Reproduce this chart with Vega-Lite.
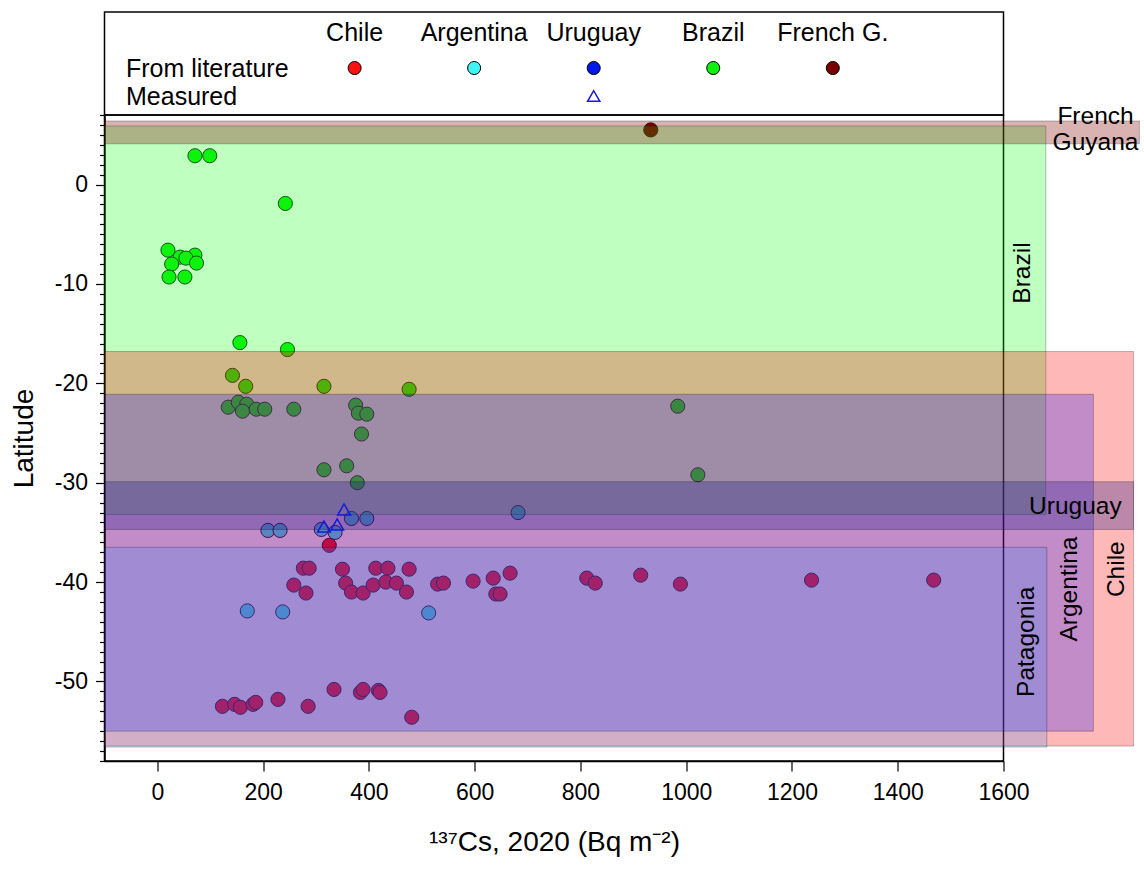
{
  "$schema": "https://vega.github.io/schema/vega-lite/v6.json",
  "background": "white",
  "padding": {"left": 9.5, "top": 11, "right": 0, "bottom": 0},
  "autosize": {"type": "pad"},
  "spacing": 0,
  "bounds": "flush",
  "config": {
    "font": "Liberation Sans",
    "view": {"stroke": "black", "strokeWidth": 1.5},
    "axis": {"domainColor": "black", "tickColor": "black", "labelColor": "black", "titleColor": "black", "grid": false, "titleFontWeight": "normal", "labelFont": "Liberation Sans", "titleFont": "Liberation Sans", "domainWidth": 1.5, "tickWidth": 1.2},
    "text": {"font": "Liberation Sans"}
  },
  "datasets": {
    "legend": [
      {"country": "Chile", "row": "header"},
      {"country": "Argentina", "row": "header"},
      {"country": "Uruguay", "row": "header"},
      {"country": "Brazil", "row": "header"},
      {"country": "French G.", "row": "header"},
      {"country": "Chile", "row": "From literature"},
      {"country": "Argentina", "row": "From literature"},
      {"country": "Uruguay", "row": "From literature"},
      {"country": "Brazil", "row": "From literature"},
      {"country": "French G.", "row": "From literature"},
      {"country": "Uruguay", "row": "Measured"}
    ],
    "pts": [
      {"country": "Brazil", "cs": 71, "lat": 2.9},
      {"country": "Brazil", "cs": 99, "lat": 2.9},
      {"country": "Brazil", "cs": 242, "lat": -1.9},
      {"country": "Brazil", "cs": 20, "lat": -6.6},
      {"country": "Brazil", "cs": 71, "lat": -7.1},
      {"country": "Brazil", "cs": 43, "lat": -7.3},
      {"country": "Brazil", "cs": 54, "lat": -7.4},
      {"country": "Brazil", "cs": 27, "lat": -8.0},
      {"country": "Brazil", "cs": 74, "lat": -7.9},
      {"country": "Brazil", "cs": 22, "lat": -9.3},
      {"country": "Brazil", "cs": 52, "lat": -9.3},
      {"country": "Brazil", "cs": 156, "lat": -15.9},
      {"country": "Brazil", "cs": 246, "lat": -16.6},
      {"country": "Brazil", "cs": 142, "lat": -19.2},
      {"country": "Brazil", "cs": 167, "lat": -20.3},
      {"country": "Brazil", "cs": 315, "lat": -20.3},
      {"country": "Brazil", "cs": 476, "lat": -20.6},
      {"country": "Brazil", "cs": 134, "lat": -22.4},
      {"country": "Brazil", "cs": 153, "lat": -21.9},
      {"country": "Brazil", "cs": 169, "lat": -22.1},
      {"country": "Brazil", "cs": 161, "lat": -22.8},
      {"country": "Brazil", "cs": 187, "lat": -22.6},
      {"country": "Brazil", "cs": 203, "lat": -22.6},
      {"country": "Brazil", "cs": 258, "lat": -22.6},
      {"country": "Brazil", "cs": 375, "lat": -22.2},
      {"country": "Brazil", "cs": 380, "lat": -23.0},
      {"country": "Brazil", "cs": 396, "lat": -23.1},
      {"country": "Brazil", "cs": 386, "lat": -25.1},
      {"country": "Brazil", "cs": 315, "lat": -28.7},
      {"country": "Brazil", "cs": 358, "lat": -28.3},
      {"country": "Brazil", "cs": 378, "lat": -30.0},
      {"country": "Brazil", "cs": 984, "lat": -22.3},
      {"country": "Brazil", "cs": 1022, "lat": -29.2},
      {"country": "Argentina", "cs": 209, "lat": -34.8},
      {"country": "Argentina", "cs": 232, "lat": -34.8},
      {"country": "Argentina", "cs": 310, "lat": -34.7},
      {"country": "Argentina", "cs": 336, "lat": -35.0},
      {"country": "Argentina", "cs": 367, "lat": -33.6},
      {"country": "Argentina", "cs": 396, "lat": -33.6},
      {"country": "Argentina", "cs": 682, "lat": -33.0},
      {"country": "Argentina", "cs": 170, "lat": -42.9},
      {"country": "Argentina", "cs": 237, "lat": -43.0},
      {"country": "Argentina", "cs": 513, "lat": -43.1},
      {"country": "Chile", "cs": 325, "lat": -36.3},
      {"country": "Chile", "cs": 276, "lat": -38.6},
      {"country": "Chile", "cs": 287, "lat": -38.6},
      {"country": "Chile", "cs": 258, "lat": -40.3},
      {"country": "Chile", "cs": 281, "lat": -41.1},
      {"country": "Chile", "cs": 350, "lat": -38.7},
      {"country": "Chile", "cs": 356, "lat": -40.1},
      {"country": "Chile", "cs": 367, "lat": -41.0},
      {"country": "Chile", "cs": 389, "lat": -41.1},
      {"country": "Chile", "cs": 413, "lat": -38.6},
      {"country": "Chile", "cs": 436, "lat": -38.6},
      {"country": "Chile", "cs": 408, "lat": -40.3},
      {"country": "Chile", "cs": 432, "lat": -40.0},
      {"country": "Chile", "cs": 452, "lat": -40.1},
      {"country": "Chile", "cs": 471, "lat": -41.0},
      {"country": "Chile", "cs": 476, "lat": -38.7},
      {"country": "Chile", "cs": 530, "lat": -40.2},
      {"country": "Chile", "cs": 541, "lat": -40.1},
      {"country": "Chile", "cs": 597, "lat": -39.9},
      {"country": "Chile", "cs": 635, "lat": -39.6},
      {"country": "Chile", "cs": 640, "lat": -41.2},
      {"country": "Chile", "cs": 648, "lat": -41.2},
      {"country": "Chile", "cs": 667, "lat": -39.1},
      {"country": "Chile", "cs": 812, "lat": -39.6},
      {"country": "Chile", "cs": 828, "lat": -40.1},
      {"country": "Chile", "cs": 914, "lat": -39.3},
      {"country": "Chile", "cs": 989, "lat": -40.2},
      {"country": "Chile", "cs": 1237, "lat": -39.8},
      {"country": "Chile", "cs": 1468, "lat": -39.8},
      {"country": "Chile", "cs": 123, "lat": -52.5},
      {"country": "Chile", "cs": 146, "lat": -52.3},
      {"country": "Chile", "cs": 157, "lat": -52.6},
      {"country": "Chile", "cs": 181, "lat": -52.3},
      {"country": "Chile", "cs": 186, "lat": -52.1},
      {"country": "Chile", "cs": 228, "lat": -51.8},
      {"country": "Chile", "cs": 285, "lat": -52.5},
      {"country": "Chile", "cs": 334, "lat": -50.8},
      {"country": "Chile", "cs": 384, "lat": -51.1},
      {"country": "Chile", "cs": 389, "lat": -50.8},
      {"country": "Chile", "cs": 418, "lat": -50.9},
      {"country": "Chile", "cs": 421, "lat": -51.1},
      {"country": "Chile", "cs": 481, "lat": -53.6},
      {"country": "French G.", "cs": 933, "lat": 5.5}
    ],
    "measured": [
      {"country": "Uruguay", "cs": 315, "lat": -34.4},
      {"country": "Uruguay", "cs": 340, "lat": -34.2},
      {"country": "Uruguay", "cs": 353, "lat": -32.7}
    ],
    "regions": [
      {"region": "Brazil", "lat1": 5.9, "lat2": -33.2, "xmin": -100, "xmax": 1680},
      {"region": "Chile", "lat1": -16.8, "lat2": -56.5, "xmin": -100, "xmax": 1846},
      {"region": "Argentina", "lat1": -21.1, "lat2": -55.0, "xmin": -100, "xmax": 1770},
      {"region": "Uruguay", "lat1": -29.9, "lat2": -34.7, "xmin": -100, "xmax": 1846},
      {"region": "Patagonia", "lat1": -36.5, "lat2": -56.6, "xmin": -100, "xmax": 1682},
      {"region": "French Guyana", "lat1": 6.4, "lat2": 4.1, "xmin": -100, "xmax": 1857}
    ],
    "hlabels": [
      {"label": "French\nGuyana", "lx": 1774, "ly": 6.8},
      {"label": "Uruguay", "lx": 1736, "ly": -32.4}
    ],
    "vlabels": [
      {"label": "Brazil", "lx": 1637, "ly": -8.9},
      {"label": "Patagonia", "lx": 1644, "ly": -46.0},
      {"label": "Argentina", "lx": 1726, "ly": -40.7},
      {"label": "Chile", "lx": 1815, "ly": -38.7}
    ]
  },
  "vconcat": [
    {
      "width": 899,
      "height": 103,
      "data": {"name": "legend"},
      "resolve": {"axis": {"x": "independent", "y": "independent"}},
      "layer": [
        {
          "transform": [{"filter": "datum.row == 'header'"}],
          "mark": {"type": "text", "fontSize": 25, "baseline": "middle", "align": "center", "dy": -7},
          "encoding": {
            "x": {"field": "country", "type": "nominal", "scale": {"type": "point", "domain": ["_a", "_b", "Chile", "Argentina", "Uruguay", "Brazil", "French G.", "_c"], "padding": 0.26, "align": 0.177}, "axis": null},
            "y": {"field": "row", "type": "nominal", "scale": {"type": "point", "domain": ["header", "From literature", "Measured"], "padding": 0.84, "align": 0.596}, "axis": {"orient": "left", "values": ["From literature", "Measured"], "title": null, "domain": false, "ticks": false, "tickSize": 0, "labelAlign": "left", "labelPadding": -21, "labelFontSize": 25, "labelBaseline": "middle"}},
            "text": {"field": "country"}
          }
        },
        {
          "transform": [{"filter": "datum.row == 'From literature'"}],
          "mark": {"type": "point", "shape": "circle", "filled": true, "size": 170, "stroke": "black", "strokeWidth": 1, "opacity": 1},
          "encoding": {
            "x": {"field": "country", "type": "nominal", "scale": {"type": "point", "domain": ["_a", "_b", "Chile", "Argentina", "Uruguay", "Brazil", "French G.", "_c"], "padding": 0.26, "align": 0.177}, "axis": null},
            "y": {"field": "row", "type": "nominal", "scale": {"type": "point", "domain": ["header", "From literature", "Measured"], "padding": 0.84, "align": 0.596}, "axis": null},
            "fill": {"field": "country", "type": "nominal", "scale": {"domain": ["Chile", "Argentina", "Uruguay", "Brazil", "French G."], "range": ["#ff1010", "#40f4f4", "#0018e8", "#10f010", "#780000"]}, "legend": null}
          }
        },
        {
          "transform": [{"filter": "datum.row == 'Measured'"}],
          "mark": {"type": "point", "shape": "triangle-up", "filled": false, "size": 150, "stroke": "#1a1ad0", "strokeWidth": 1.5, "opacity": 1},
          "encoding": {
            "x": {"field": "country", "type": "nominal", "scale": {"type": "point", "domain": ["_a", "_b", "Chile", "Argentina", "Uruguay", "Brazil", "French G.", "_c"], "padding": 0.26, "align": 0.177}, "axis": null},
            "y": {"field": "row", "type": "nominal", "scale": {"type": "point", "domain": ["header", "From literature", "Measured"], "padding": 0.84, "align": 0.596}, "axis": null}
          }
        }
      ]
    },
    {
      "width": 899,
      "height": 646,
      "resolve": {"axis": {"x": "independent", "y": "independent"}},
      "layer": [
        {
          "data": {"name": "pts"},
          "mark": {"type": "point", "shape": "circle", "filled": true, "size": 200, "stroke": "#1a1a1a", "strokeWidth": 1, "opacity": 1},
          "encoding": {
            "x": {"field": "cs", "type": "quantitative", "title": "¹³⁷Cs, 2020 (Bq m⁻²)", "scale": {"domain": [-100, 1600], "nice": false, "zero": false}, "axis": {"orient": "bottom", "values": [0, 200, 400, 600, 800, 1000, 1200, 1400, 1600], "format": "d", "tickSize": 10, "labelFontSize": 23, "labelPadding": 10, "labelFlush": false, "labelOverlap": false, "titleFontSize": 28, "titlePadding": 24}},
            "y": {"field": "lat", "type": "quantitative", "title": "Latitude", "scale": {"domain": [-58, 7], "nice": false, "zero": false}, "axis": {"orient": "left", "values": [-50, -40, -30, -20, -10, 0], "labelExpr": "datum.value < 0 ? '-' + abs(datum.value) : '' + datum.value", "tickSize": 9, "labelFontSize": 23, "labelPadding": 8, "titleFontSize": 28, "titlePadding": 16}},
            "fill": {"field": "country", "type": "nominal", "scale": {"domain": ["Chile", "Argentina", "Uruguay", "Brazil", "French G."], "range": ["#ff1010", "#40f4f4", "#0018e8", "#10f010", "#780000"]}, "legend": null}
          }
        },
        {
          "data": {"name": "regions"},
          "mark": {"type": "rect", "stroke": "black", "strokeOpacity": 0.25, "strokeWidth": 1},
          "encoding": {
            "x": {"field": "xmin", "type": "quantitative", "axis": null},
            "x2": {"field": "xmax"},
            "y": {"field": "lat1", "type": "quantitative", "axis": null},
            "y2": {"field": "lat2"},
            "color": {"field": "region", "type": "nominal", "scale": {"domain": ["Brazil", "Chile", "Argentina", "Uruguay", "Patagonia", "French Guyana"], "range": ["rgba(0,255,0,0.25)", "rgba(255,0,0,0.28)", "rgba(0,0,255,0.24)", "rgba(35,30,140,0.31)", "rgba(30,140,255,0.2)", "rgba(128,0,0,0.3)"]}, "legend": null}
          }
        },
        {
          "data": {"name": "measured"},
          "mark": {"type": "point", "shape": "triangle-up", "filled": false, "size": 165, "stroke": "#1818d8", "strokeWidth": 1.5, "opacity": 1},
          "encoding": {
            "x": {"field": "cs", "type": "quantitative", "axis": null},
            "y": {"field": "lat", "type": "quantitative", "axis": {"orient": "left", "values": [-58, -57, -56, -55, -54, -53, -52, -51, -49, -48, -47, -46, -45, -44, -43, -42, -41, -39, -38, -37, -36, -35, -34, -33, -32, -31, -29, -28, -27, -26, -25, -24, -23, -22, -21, -19, -18, -17, -16, -15, -14, -13, -12, -11, -9, -8, -7, -6, -5, -4, -3, -2, -1, 1, 2, 3, 4, 5, 6, 7], "labels": false, "tickSize": 5, "domain": false, "title": null, "grid": false}}
          }
        },
        {
          "data": {"name": "hlabels"},
          "mark": {"type": "text", "fontSize": 24.5, "align": "center", "baseline": "middle", "lineBreak": "\n", "lineHeight": 26},
          "encoding": {
            "x": {"field": "lx", "type": "quantitative", "axis": null},
            "y": {"field": "ly", "type": "quantitative", "axis": null},
            "text": {"field": "label"}
          }
        },
        {
          "data": {"name": "vlabels"},
          "mark": {"type": "text", "fontSize": 24.5, "align": "center", "baseline": "middle", "angle": 270},
          "encoding": {
            "x": {"field": "lx", "type": "quantitative", "axis": null},
            "y": {"field": "ly", "type": "quantitative", "axis": null},
            "text": {"field": "label"}
          }
        }
      ]
    }
  ]
}
